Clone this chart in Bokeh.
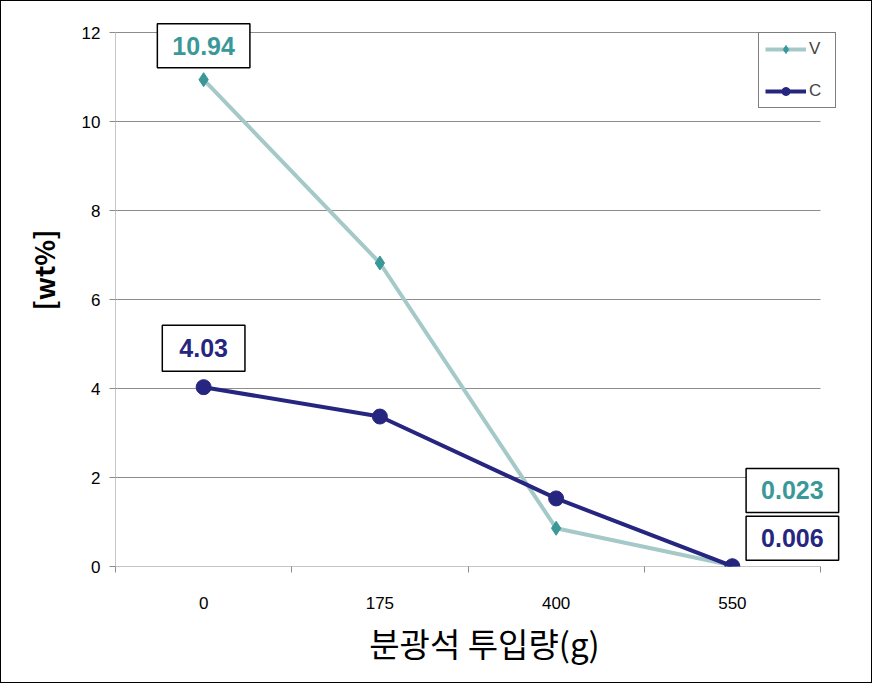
from bokeh.plotting import figure
from bokeh.models import FixedTicker, Legend, LegendItem, ColumnDataSource, Range1d, Label, Title
from bokeh.embed import file_html
from bokeh.resources import INLINE

categories = ["0", "175", "400", "550"]
v_values = [10.94, 6.82, 0.86, 0.023]
c_values = [4.03, 3.37, 1.53, 0.006]
v_labels = ["10.94", None, None, "0.023"]
c_labels = ["4.03", None, None, "0.006"]
y_ticks = [0, 2, 4, 6, 8, 10, 12]

n = len(categories)
xs = [i + 0.5 for i in range(n)]
y_max = y_ticks[-1]

# layout (pixels)
W, H = 872, 683
left, bottom = 114, 118
plot_w, plot_h = 705, 534      # drawing area of the axes
extra_r, extra_t = 33, 21       # room for boxes/legend beyond the axes area
x_end = n * (plot_w + extra_r) / plot_w
y_end = y_max * (plot_h + extra_t) / plot_h

p = figure(width=W, height=H, output_backend="svg", toolbar_location=None,
           x_range=Range1d(0, x_end), y_range=Range1d(0, y_end),
           min_border_left=left, min_border_right=W - left - plot_w - extra_r,
           min_border_top=H - bottom - plot_h - extra_t, min_border_bottom=bottom)
p.styles = {"border": "1px solid #000", "box-sizing": "border-box"}
p.outline_line_color = None
p.background_fill_color = "white"
p.border_fill_color = "white"

grey = "#8c8c8c"

# gridlines and axis lines drawn over the data extent only
p.xgrid.grid_line_color = None
p.ygrid.grid_line_color = None
p.segment(x0=[0] * len(y_ticks), x1=[n] * len(y_ticks), y0=y_ticks, y1=y_ticks,
          line_color=grey, line_width=1)
p.segment(x0=[0], x1=[0], y0=[0], y1=[y_max], line_color=grey, line_width=1)

# axes
p.xaxis.ticker = FixedTicker(ticks=xs, minor_ticks=list(range(n + 1)))
p.xaxis.major_label_overrides = {x: c for x, c in zip(xs, categories)}
p.xaxis.major_tick_out = 0
p.xaxis.major_tick_in = 0
p.xaxis.minor_tick_out = 6
p.xaxis.minor_tick_in = 0
p.xaxis.minor_tick_line_color = grey
p.xaxis.axis_line_color = None
p.xaxis.major_label_standoff = 24
p.xaxis.axis_label = "분광석 투입량(g)"
p.xaxis.axis_label_text_font = "Noto Sans CJK KR"
p.xaxis.axis_label_text_font_size = "33px"
p.xaxis.axis_label_text_font_style = "normal"
p.xaxis.axis_label_standoff = 7

p.yaxis.ticker = FixedTicker(ticks=y_ticks, minor_ticks=[])
p.yaxis.major_tick_out = 6
p.yaxis.major_tick_in = 0
p.yaxis.major_tick_line_color = grey
p.yaxis.axis_line_color = None
p.yaxis.major_label_standoff = 9

for ax in (p.xaxis, p.yaxis):
    ax.major_label_text_font = "Liberation Sans"
    ax.major_label_text_font_size = "17px"
    ax.major_label_text_color = "#000000"
    ax.axis_label_text_color = "#000000"

# y axis title, placed a little above the centre like the reference
ytitle = Title(text="[wt%]", align="left", offset=256, standoff=31,
               text_font="Noto Sans CJK KR", text_font_size="27px",
               text_font_style="bold", text_color="#000000")
p.add_layout(ytitle, "left")

v_color_line = "#a5c9c9"
v_color_mark = "#3a9898"
c_color = "#262680"

src = ColumnDataSource(dict(x=xs, v=v_values, c=c_values))

vline = p.line("x", "v", source=src, line_color=v_color_line, line_width=4)
vmark = p.scatter("x", "v", source=src, marker="diamond", size=14, fill_color=v_color_mark,
                  line_color=v_color_mark)
cline = p.line("x", "c", source=src, line_color=c_color, line_width=4)
cmark = p.scatter("x", "c", source=src, marker="circle", size=15, fill_color=c_color,
                  line_color=c_color)


def box_label(x, y, text, color, dx, dy, pad_h, pad_v):
    lab = Label(x=x, y=y, text=text, x_offset=dx, y_offset=dy,
                text_font="Liberation Sans", text_font_size="25px", text_font_style="bold",
                text_color=color, text_align="center", text_baseline="middle",
                background_fill_color="white", border_line_color="black",
                border_line_width=1.5,
                padding=dict(left=pad_h, right=pad_h, top=pad_v, bottom=pad_v))
    p.add_layout(lab)


# data labels at first and last points
for i in (0, n - 1):
    if v_labels[i] is not None:
        if i == 0:
            box_label(xs[i], v_values[i], v_labels[i], v_color_mark, 0, 34, 15, 13)
        else:
            box_label(xs[i], v_values[i], v_labels[i], v_color_mark, 60, 75, 15, 13)
    if c_labels[i] is not None:
        if i == 0:
            box_label(xs[i], c_values[i], c_labels[i], c_color, 0, 39, 17, 14)
        else:
            box_label(xs[i], c_values[i], c_labels[i], c_color, 60, 28, 15, 13)

legend = Legend(items=[LegendItem(label="V", renderers=[vline, vmark]),
                       LegendItem(label="C", renderers=[cline, cmark])],
                location=(643, 458))
legend.label_text_font = "Liberation Sans"
legend.label_text_font_size = "17px"
legend.border_line_color = "black"
legend.border_line_width = 1.5
legend.glyph_width = 41
legend.glyph_height = 20
legend.label_height = 20
legend.spacing = 22
legend.padding = 6
legend.margin = 0
legend.label_standoff = 3
p.add_layout(legend, "center")

open("out.html", "w").write(file_html(p, INLINE))
